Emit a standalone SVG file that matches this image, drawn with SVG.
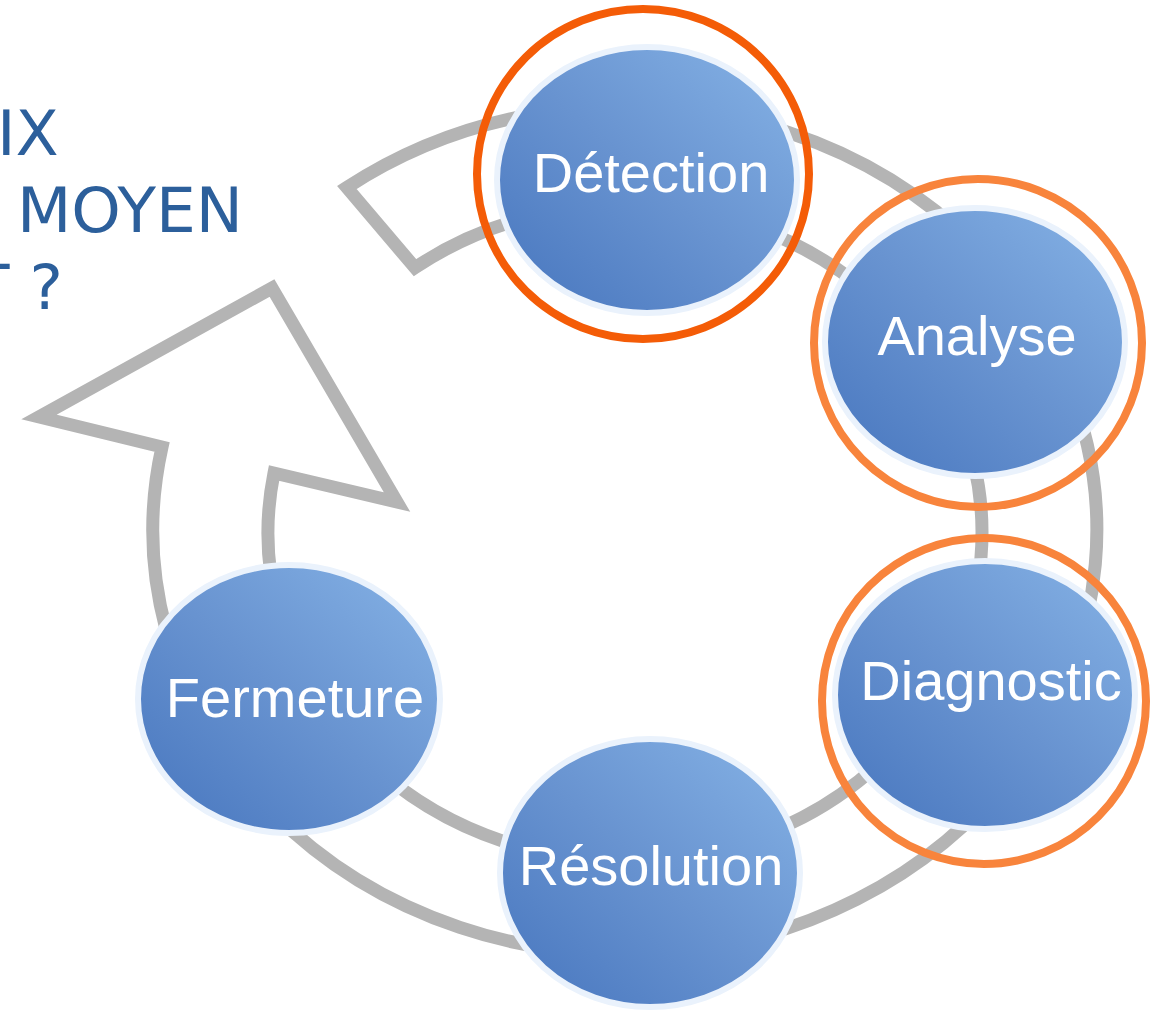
<svg xmlns="http://www.w3.org/2000/svg" width="1153" height="1014" viewBox="0 0 1153 1014">
  <defs>
    <linearGradient id="disk" x1="1" y1="0" x2="0" y2="1">
      <stop offset="0" stop-color="#86b3e6"/>
      <stop offset="0.5" stop-color="#6893d0"/>
      <stop offset="1" stop-color="#4675be"/>
    </linearGradient>
    <style>
      .disk { fill: url(#disk); stroke: #eaf2fc; stroke-width: 6; }
      .lbl { font-family: "Liberation Sans", Arial, sans-serif; font-size: 56px; fill: #ffffff; text-anchor: middle; }
      .ring { fill: none; stroke-width: 8; }
      .title { font-family: "DejaVu Sans", Verdana, sans-serif; font-size: 63px; fill: #2c5f9b; }
    </style>
  </defs>
  <rect width="1153" height="1014" fill="#ffffff"/>

  <g id="title">
    <text class="title" x="-3" y="155">IX</text>
    <text class="title" x="17" y="232">MOYEN</text>
    <text class="title" x="-29" y="309">T ?</text>
  </g>

  <g id="connectors">
    <path d="M 346.8 187.5 A 472 424 0 1 1 162 447 L 39 417 L 272 288 L 397 502 L 274 473 A 357 328 0 1 0 415 267.7 Z"
          fill="none" stroke="#b4b4b4" stroke-width="13" stroke-linejoin="miter" stroke-miterlimit="10"/>
  </g>

  <g id="node-detection">
    <ellipse class="disk" cx="647" cy="180" rx="150" ry="133"/>
    <text class="lbl" x="651" y="192">Détection</text>
    <ellipse class="ring" cx="643" cy="174" rx="166" ry="165" stroke="#f45c07"/>
  </g>

  <g id="node-analyse">
    <ellipse class="disk" cx="975" cy="342" rx="150" ry="134"/>
    <text class="lbl" x="977" y="355">Analyse</text>
    <ellipse class="ring" cx="978" cy="343" rx="164" ry="164" stroke="#f8843c"/>
  </g>

  <g id="node-diagnostic">
    <ellipse class="disk" cx="985" cy="695" rx="150" ry="134"/>
    <text class="lbl" x="991" y="700">Diagnostic</text>
    <ellipse class="ring" cx="984" cy="701" rx="162" ry="163" stroke="#f8843c"/>
  </g>

  <g id="node-resolution">
    <ellipse class="disk" cx="650" cy="873" rx="150" ry="134"/>
    <text class="lbl" x="651" y="885">Résolution</text>
  </g>

  <g id="node-fermeture">
    <ellipse class="disk" cx="289" cy="699" rx="151" ry="134"/>
    <text class="lbl" x="295" y="717">Fermeture</text>
  </g>
</svg>
